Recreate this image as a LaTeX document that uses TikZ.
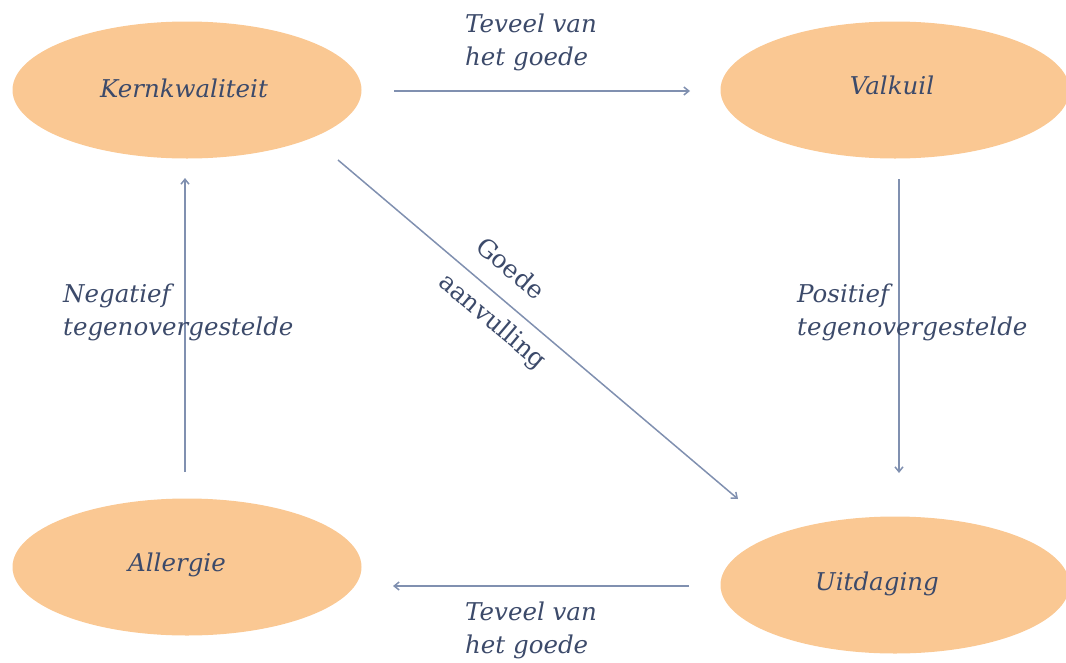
\documentclass[tikz,border=0pt]{standalone}
\usepackage{fontspec}
\setmainfont{DejaVu Serif}
\usetikzlibrary{arrows.meta,shapes.geometric}
\definecolor{txt}{HTML}{3C4A6A}
\definecolor{arr}{HTML}{8090B0}
\definecolor{fillc}{HTML}{FAC893}
\begin{document}
\begin{tikzpicture}[x=1pt,y=-1pt,
  blob/.style={ellipse,fill=fillc,minimum width=349pt,minimum height=137pt,inner sep=0pt},
  lbl/.style={text=txt,font=\fontsize{24.5}{33}\selectfont\itshape},
  diag/.style={text=txt,font=\fontsize{25}{30}\selectfont,rotate=-40.3,inner sep=0pt},
  conn/.style={draw=arr,line width=1.5pt,-{Straight Barb[length=5pt,width=8pt]}}]
\useasboundingbox (0,0) rectangle (1066,662);
\node[blob] (k) at (187,90) {};
\node[blob] (v) at (895,90) {};
\node[blob] (a) at (187,567) {};
\node[blob] (u) at (895,585) {};
\node[lbl] at (184,88) {Kernkwaliteit};
\node[lbl] at (892,85) {Valkuil};
\node[lbl] at (177,565) {Allergie};
\node[lbl] at (877,584) {Uitdaging};
\coordinate (t1) at (394,91); \coordinate (t2) at (690,91);
\coordinate (r1) at (899,179); \coordinate (r2) at (899,473);
\coordinate (b1) at (689,586); \coordinate (b2) at (393,586);
\coordinate (l1) at (185,472); \coordinate (l2) at (185,178);
\coordinate (d1) at (338,160); \coordinate (d2) at (738,499);
\draw[conn] (t1) -- (t2);
\draw[conn] (r1) -- (r2);
\draw[conn] (b1) -- (b2);
\draw[conn] (l1) -- (l2);
\draw[conn] (d1) -- (d2);
\node[lbl,align=left,anchor=west,inner sep=0pt] (tl) at (465,42) {Teveel van\\het goede};
\node[lbl,align=left,anchor=west,inner sep=0pt] (bl) at (465,630) {Teveel van\\het goede};
\node[lbl,align=left,anchor=west,inner sep=0pt] (nl) at (63,312) {Negatief\\tegenovergestelde};
\node[lbl,align=left,anchor=west,inner sep=0pt] (pl) at (797,312) {Positief\\tegenovergestelde};
\node[diag] (g1) at (511,268) {Goede};
\node[diag] (g2) at (492,322) {aanvulling};
\end{tikzpicture}
\end{document}
